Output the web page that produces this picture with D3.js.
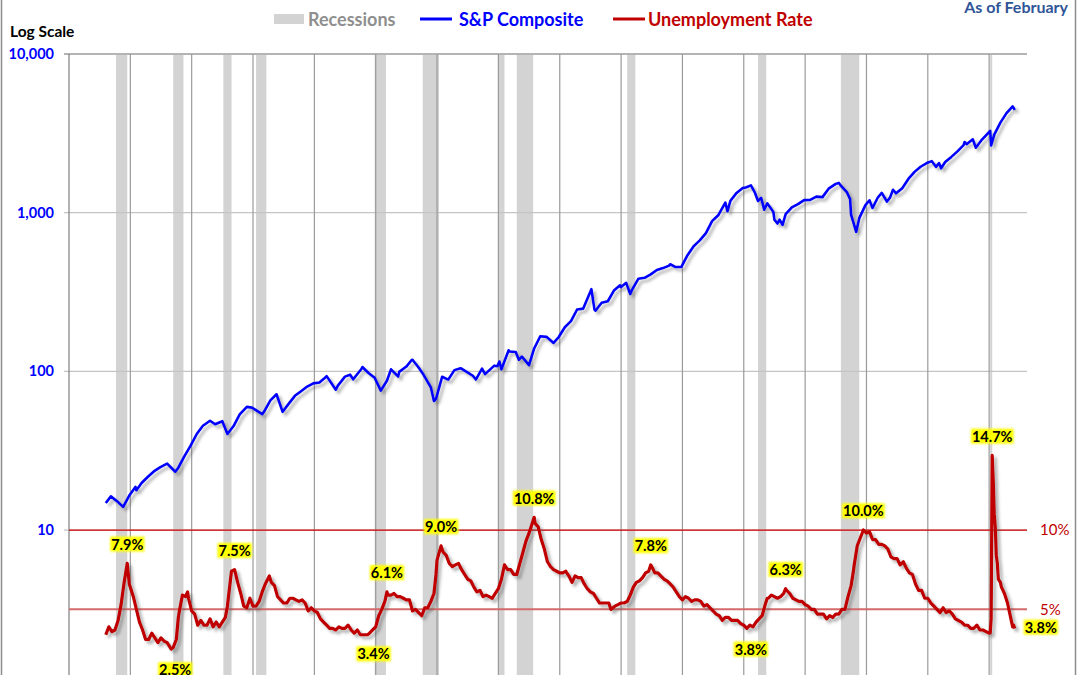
<!DOCTYPE html>
<html>
<head>
<meta charset="utf-8">
<script src="https://cdn.jsdelivr.net/npm/d3@7"></script>
<style>
  body { margin: 0; background: #fff; }
  svg { display: block; font-family: Lato, "Open Sans", sans-serif; }
</style>
</head>
<body>
<svg id="chart" width="1080" height="675"></svg>
<script>
// S&P Composite, monthly average (selected months)
const spData = [
  ["1948-01",14.8],["1948-06",16.3],["1948-12",15.2],["1949-06",14.0],["1949-12",16.5],
  ["1950-06",18.7],["1950-07",17.8],["1950-12",19.8],["1951-06",21.6],["1951-12",23.4],
  ["1952-06",24.8],["1952-12",26.0],["1953-01",26.2],["1953-09",23.3],["1953-12",24.7],
  ["1954-06",29.2],["1954-12",34.0],["1955-06",40.3],["1955-12",45.4],["1956-07",48.8],
  ["1956-12",46.4],["1957-07",48.5],["1957-12",40.3],["1958-06",45.2],["1958-12",53.5],
  ["1959-07",59.7],["1959-12",59.1],["1960-10",53.7],["1960-12",56.0],["1961-06",65.6],
  ["1961-12",71.7],["1962-06",55.6],["1962-12",62.6],["1963-06",70.1],["1963-12",75.0],
  ["1964-06",80.2],["1964-12",84.0],["1965-06",85.0],["1965-12",91.7],["1966-01",93.3],
  ["1966-10",76.6],["1966-12",81.3],["1967-07",92.6],["1967-12",95.3],["1968-03",89.1],
  ["1968-11",103.4],["1968-12",106.5],["1969-06",97.7],["1969-12",91.1],["1970-06",75.6],
  ["1970-12",87.2],["1971-04",103.0],["1971-11",92.8],["1971-12",99.2],["1972-07",107.2],
  ["1972-12",117.5],["1973-01",118.4],["1973-07",105.8],["1973-12",94.8],["1974-07",79.3],
  ["1974-10",65.0],["1974-12",67.1],["1975-06",92.4],["1975-12",88.7],["1976-06",101.8],
  ["1976-12",104.7],["1977-06",99.3],["1977-12",93.8],["1978-03",88.8],["1978-09",103.9],
  ["1978-12",96.1],["1979-09",108.6],["1979-12",107.8],["1980-02",115.3],["1980-04",103.0],
  ["1980-11",135.7],["1980-12",133.5],["1981-06",132.3],["1981-09",118.3],["1981-12",123.8],
  ["1982-07",109.4],["1982-12",139.4],["1983-06",166.4],["1983-12",165.0],["1984-07",151.1],
  ["1984-12",164.5],["1985-06",189.6],["1985-12",207.3],["1986-06",245.3],["1986-12",248.6],
  ["1987-08",329.4],["1987-11",245.0],["1987-12",241.0],["1988-06",270.7],["1988-12",276.5],
  ["1989-06",322.9],["1989-12",348.6],["1990-01",340.0],["1990-06",361.2],["1990-10",307.1],
  ["1990-12",328.8],["1991-06",383.7],["1991-12",388.5],["1992-06",408.3],["1992-12",435.6],
  ["1993-06",447.4],["1993-12",463.9],["1994-01",473.0],["1994-06",454.8],["1994-12",455.2],
  ["1995-06",539.4],["1995-12",614.6],["1996-06",669.1],["1996-12",743.3],["1997-06",884.1],
  ["1997-12",962.4],["1998-07",1156.6],["1998-09",1020.6],["1998-12",1190.1],["1999-06",1332.1],
  ["1999-12",1428.7],["2000-03",1442.2],["2000-08",1485.5],["2000-12",1330.9],["2001-03",1185.9],
  ["2001-06",1240.0],["2001-09",1044.6],["2001-12",1144.9],["2002-06",1009.0],["2002-07",903.6],
  ["2002-10",854.6],["2002-12",903.6],["2003-03",837.6],["2003-06",980.2],["2003-12",1080.6],
  ["2004-06",1132.8],["2004-12",1199.2],["2005-06",1202.3],["2005-12",1262.1],["2006-06",1253.1],
  ["2006-12",1416.4],["2007-07",1518.7],["2007-10",1539.7],["2007-12",1479.2],["2008-06",1341.3],
  ["2008-09",1216.9],["2008-10",968.8],["2008-12",877.6],["2009-03",757.1],["2009-06",923.3],
  ["2009-12",1115.1],["2010-04",1197.3],["2010-07",1070.0],["2010-12",1241.5],["2011-04",1331.5],
  ["2011-09",1175.4],["2011-12",1243.3],["2012-03",1394.5],["2012-06",1323.5],["2012-12",1427.0],
  ["2013-06",1631.9],["2013-12",1807.8],["2014-06",1947.1],["2014-12",2054.3],["2015-05",2111.9],
  ["2015-09",1944.4],["2015-12",2054.1],["2016-02",1904.4],["2016-06",2083.9],["2016-12",2246.6],
  ["2017-06",2434.0],["2017-12",2664.3],["2018-01",2789.8],["2018-03",2702.8],["2018-09",2901.5],
  ["2018-12",2567.3],["2019-06",2890.2],["2019-12",3176.7],["2020-02",3277.3],["2020-03",2652.4],
  ["2020-06",3104.7],["2020-12",3695.3],["2021-06",4238.5],["2021-12",4674.8],["2022-01",4573.8],
  ["2022-02",4436.0]
];

// Unemployment rate, percent (selected months)
const unrateData = [
  ["1948-01",3.4],["1948-04",3.9],["1948-07",3.6],["1948-10",3.7],["1949-01",4.3],["1949-04",5.3],
  ["1949-07",6.7],["1949-10",7.9],["1949-12",6.6],["1950-04",5.8],["1950-07",5.0],["1950-10",4.2],
  ["1951-01",3.7],["1951-04",3.1],["1951-07",3.1],["1951-10",3.5],["1952-01",3.2],["1952-04",2.9],
  ["1952-07",3.2],["1952-10",3.0],["1953-01",2.9],["1953-05",2.5],["1953-07",2.6],["1953-10",3.1],
  ["1953-12",4.5],["1954-01",4.9],["1954-04",5.9],["1954-07",5.8],["1954-09",6.1],["1954-10",5.7],
  ["1955-01",4.9],["1955-04",4.7],["1955-07",4.0],["1955-10",4.3],["1956-01",4.0],["1956-04",4.0],
  ["1956-07",4.4],["1956-10",3.9],["1957-01",4.2],["1957-04",3.9],["1957-07",4.2],["1957-10",4.5],
  ["1957-12",5.2],["1958-01",5.8],["1958-04",7.4],["1958-07",7.5],["1958-10",6.7],["1959-01",6.0],
  ["1959-04",5.2],["1959-07",5.1],["1959-10",5.7],["1960-01",5.2],["1960-04",5.2],["1960-07",5.5],
  ["1960-10",6.1],["1961-01",6.6],["1961-05",7.1],["1961-07",6.7],["1961-10",6.5],["1962-01",5.8],
  ["1962-04",5.6],["1962-07",5.4],["1962-10",5.4],["1963-01",5.7],["1963-04",5.7],["1963-07",5.6],
  ["1963-10",5.5],["1964-01",5.6],["1964-04",5.4],["1964-07",4.9],["1964-10",5.1],["1965-01",4.9],
  ["1965-04",4.8],["1965-07",4.4],["1965-10",4.2],["1966-01",4.0],["1966-04",3.8],["1966-07",3.8],
  ["1966-10",3.7],["1967-01",3.9],["1967-04",3.8],["1967-07",3.8],["1967-10",4.0],["1968-01",3.7],
  ["1968-04",3.5],["1968-07",3.7],["1968-10",3.4],["1969-01",3.4],["1969-05",3.4],["1969-07",3.5],
  ["1969-10",3.7],["1970-01",3.9],["1970-04",4.6],["1970-07",5.0],["1970-10",5.5],["1970-12",6.1],
  ["1971-01",5.9],["1971-04",5.9],["1971-07",6.0],["1971-10",5.8],["1972-01",5.8],["1972-04",5.7],
  ["1972-07",5.6],["1972-10",5.6],["1973-01",4.9],["1973-04",5.0],["1973-07",4.8],["1973-10",4.6],
  ["1974-01",5.1],["1974-04",5.1],["1974-07",5.5],["1974-10",6.0],["1974-12",7.2],["1975-01",8.1],
  ["1975-05",9.0],["1975-07",8.6],["1975-10",8.4],["1976-01",7.9],["1976-04",7.7],["1976-07",7.8],
  ["1976-10",7.9],["1977-01",7.5],["1977-04",7.2],["1977-07",6.9],["1977-10",6.8],["1978-01",6.4],
  ["1978-04",6.1],["1978-07",6.2],["1978-10",5.8],["1979-01",5.9],["1979-04",5.8],["1979-07",5.7],
  ["1979-10",6.0],["1980-01",6.3],["1980-04",6.9],["1980-07",7.8],["1980-10",7.5],["1981-01",7.5],
  ["1981-04",7.2],["1981-07",7.2],["1981-10",7.9],["1982-01",8.6],["1982-04",9.3],["1982-07",9.8],
  ["1982-10",10.4],["1982-12",10.8],["1983-01",10.4],["1983-04",10.2],["1983-07",9.4],["1983-10",8.8],
  ["1984-01",8.0],["1984-04",7.7],["1984-07",7.5],["1984-10",7.4],["1985-01",7.3],["1985-04",7.3],
  ["1985-07",7.4],["1985-10",7.1],["1986-01",6.7],["1986-04",7.1],["1986-07",7.0],["1986-10",7.0],
  ["1987-01",6.6],["1987-04",6.3],["1987-07",6.1],["1987-10",6.0],["1988-01",5.7],["1988-04",5.4],
  ["1988-07",5.4],["1988-10",5.4],["1989-01",5.4],["1989-03",5.0],["1989-07",5.2],["1989-10",5.3],
  ["1990-01",5.4],["1990-04",5.4],["1990-07",5.5],["1990-10",5.9],["1991-01",6.4],["1991-04",6.7],
  ["1991-07",6.8],["1991-10",7.0],["1992-01",7.3],["1992-04",7.4],["1992-06",7.8],["1992-07",7.7],
  ["1992-10",7.3],["1993-01",7.3],["1993-04",7.1],["1993-07",6.9],["1993-10",6.8],["1994-01",6.6],
  ["1994-04",6.4],["1994-07",6.1],["1994-10",5.8],["1995-01",5.6],["1995-04",5.8],["1995-07",5.7],
  ["1995-10",5.5],["1996-01",5.6],["1996-04",5.6],["1996-07",5.5],["1996-10",5.2],["1997-01",5.3],
  ["1997-04",5.1],["1997-07",4.9],["1997-10",4.7],["1998-01",4.6],["1998-04",4.3],["1998-07",4.5],
  ["1998-10",4.5],["1999-01",4.3],["1999-04",4.3],["1999-07",4.3],["1999-10",4.1],["2000-01",4.0],
  ["2000-04",3.8],["2000-07",4.0],["2000-10",3.9],["2001-01",4.2],["2001-04",4.4],["2001-07",4.6],
  ["2001-10",5.3],["2001-12",5.7],["2002-01",5.7],["2002-04",5.9],["2002-07",5.8],["2002-10",5.7],
  ["2003-01",5.8],["2003-04",6.0],["2003-06",6.3],["2003-07",6.2],["2003-10",6.0],["2004-01",5.7],
  ["2004-04",5.6],["2004-07",5.5],["2004-10",5.5],["2005-01",5.3],["2005-04",5.2],["2005-07",5.0],
  ["2005-10",5.0],["2006-01",4.7],["2006-04",4.7],["2006-07",4.7],["2006-10",4.4],["2007-01",4.6],
  ["2007-04",4.5],["2007-07",4.7],["2007-10",4.7],["2008-01",5.0],["2008-04",5.0],["2008-07",5.8],
  ["2008-10",6.5],["2008-12",7.3],["2009-01",7.8],["2009-04",9.0],["2009-07",9.5],["2009-10",10.0],
  ["2010-01",9.8],["2010-04",9.9],["2010-07",9.4],["2010-10",9.4],["2011-01",9.1],["2011-04",9.1],
  ["2011-07",9.0],["2011-10",8.8],["2012-01",8.3],["2012-04",8.2],["2012-07",8.2],["2012-10",7.8],
  ["2013-01",8.0],["2013-04",7.6],["2013-07",7.3],["2013-10",7.2],["2014-01",6.6],["2014-04",6.2],
  ["2014-07",6.2],["2014-10",5.7],["2015-01",5.7],["2015-04",5.4],["2015-07",5.2],["2015-10",5.0],
  ["2016-01",4.8],["2016-04",5.1],["2016-07",4.8],["2016-10",4.9],["2017-01",4.7],["2017-04",4.4],
  ["2017-07",4.3],["2017-10",4.2],["2018-01",4.0],["2018-04",4.0],["2018-07",3.8],["2018-10",3.8],
  ["2019-01",4.0],["2019-04",3.7],["2019-07",3.7],["2019-10",3.6],["2020-01",3.5],["2020-02",3.5],
  ["2020-03",4.4],["2020-04",14.7],["2020-05",13.2],["2020-06",11.0],["2020-07",10.2],["2020-08",8.4],
  ["2020-09",7.9],["2020-10",6.9],["2020-12",6.7],["2021-01",6.4],["2021-04",6.0],["2021-07",5.4],
  ["2021-10",4.5],["2021-12",3.9],["2022-01",4.0],["2022-02",3.8]
];

// NBER recessions [start, end]
const recessions = [
  ["1948-11","1949-10"],["1953-07","1954-05"],["1957-08","1958-04"],["1960-04","1961-02"],
  ["1969-12","1970-11"],["1973-11","1975-03"],["1980-01","1980-07"],["1981-07","1982-11"],
  ["1990-07","1991-03"],["2001-03","2001-11"],["2007-12","2009-06"],["2020-02","2020-04"]
];

// peak / trough call-outs on the unemployment line
const callouts = [
  ["1949-10","7.9%","above"],["1953-05","2.5%","below"],["1958-07","7.5%","above"],
  ["1969-07","3.4%","below"],["1970-12","6.1%","above"],["1975-05","9.0%","above"],
  ["1982-12","10.8%","above"],["1992-06","7.8%","above"],["2000-04","3.8%","below"],
  ["2003-06","6.3%","above"],["2009-10","10.0%","above"],["2020-04","14.7%","above"],
  ["2022-02","3.8%","right"]
];

const spTicks = [10, 100, 1000, 10000];
const unrateRefLines = [10, 5];

const parse = d3.timeParse("%Y-%m");
const sp = spData.map(d => ({ date: parse(d[0]), value: d[1] }));
const ur = unrateData.map(d => ({ date: parse(d[0]), value: d[1] }));

const svg = d3.select("#chart");
const plotLeft = 69, plotRight = 1027, plotTop = 54, plotBottom = 688.7;

const x = d3.scaleTime()
  .domain([new Date(1945, 0, 1), new Date(2023, 1, 1)])
  .range([plotLeft, plotRight]);
const y = d3.scaleLog().domain([1, 10000]).range([plotBottom, plotTop]);
const yU = d3.scaleLinear().domain([0, 40]).range([plotBottom, plotTop]);

// filters
const defs = svg.append("defs");
const shadow = defs.append("filter").attr("id", "shadow")
  .attr("x", "-10%").attr("y", "-10%").attr("width", "120%").attr("height", "120%");
shadow.append("feDropShadow")
  .attr("dx", 3).attr("dy", 3).attr("stdDeviation", 1.8)
  .attr("flood-color", "#555").attr("flood-opacity", 0.45);
const glow = defs.append("filter").attr("id", "glow")
  .attr("x", "-20%").attr("y", "-30%").attr("width", "140%").attr("height", "160%");
glow.append("feGaussianBlur").attr("stdDeviation", 1.2);

// outer border
svg.append("rect")
  .attr("x", 1.5).attr("y", -5).attr("width", 1074).attr("height", 700)
  .style("fill", "none").style("stroke", "#8c8c8c").style("stroke-width", 1.5);

// recession bands
svg.append("g").selectAll("rect")
  .data(recessions)
  .join("rect")
  .attr("x", d => x(parse(d[0])))
  .attr("width", d => x(parse(d[1])) - x(parse(d[0])))
  .attr("y", plotTop)
  .attr("height", plotBottom - plotTop)
  .style("fill", "#d3d3d3");

// horizontal gridlines + y ticks
svg.append("g").selectAll("line")
  .data(spTicks)
  .join("line")
  .attr("x1", plotLeft - 5).attr("x2", plotRight)
  .attr("y1", d => y(d)).attr("y2", d => y(d))
  .style("stroke", d => d === 10000 ? "#b4b4b4" : "#c4c4c4")
  .style("stroke-width", d => d === 10000 ? 2 : 1.2);

// vertical gridlines every 5 years
svg.append("g").selectAll("line")
  .data(d3.timeYear.every(5).range(new Date(1945, 0, 1), new Date(2021, 0, 1)))
  .join("line")
  .attr("x1", d => x(d)).attr("x2", d => x(d))
  .attr("y1", plotTop).attr("y2", plotBottom)
  .style("stroke", (d, i) => i === 0 ? "#7f7f7f" : "#9a9a9a")
  .style("stroke-width", 1.2);

// y labels
svg.append("g").selectAll("text")
  .data(spTicks)
  .join("text")
  .attr("x", 54).attr("y", d => y(d))
  .attr("dy", "0.35em")
  .attr("text-anchor", "end")
  .style("font-size", "14.5px").style("font-weight", "bold")
  .style("fill", "#0000ff")
  .text(d => d3.format(",")(d));

svg.append("text")
  .attr("x", 10).attr("y", 37)
  .style("font-size", "15.5px").style("font-weight", "bold").style("fill", "#000")
  .text("Log Scale");

// unemployment reference lines
svg.append("g").selectAll("line")
  .data(unrateRefLines)
  .join("line")
  .attr("x1", plotLeft).attr("x2", plotRight)
  .attr("y1", d => yU(d)).attr("y2", d => yU(d))
  .style("stroke", d => d === 10 ? "#d00000" : "#d46a6a")
  .style("stroke-width", d => d === 10 ? 1.3 : 2);

svg.append("g").selectAll("text")
  .data(unrateRefLines)
  .join("text")
  .attr("x", 1040).attr("y", d => yU(d))
  .attr("dy", "0.35em")
  .style("font-size", "15px").style("fill", "#c00000")
  .text(d => d + "%");

// lines
const spLine = d3.line().x(d => x(d.date)).y(d => y(d.value));
const urLine = d3.line().x(d => x(d.date)).y(d => yU(d.value));

svg.append("path")
  .datum(sp)
  .attr("d", spLine)
  .attr("filter", "url(#shadow)")
  .style("fill", "none").style("stroke", "#0000ff")
  .style("stroke-width", 2.6).style("stroke-linejoin", "round");

svg.append("path")
  .datum(ur)
  .attr("d", urLine)
  .attr("filter", "url(#shadow)")
  .style("fill", "none").style("stroke", "#c00000")
  .style("stroke-width", 3.2).style("stroke-linejoin", "round");

// call-out labels
const urByDate = new Map(ur.map(d => [d3.timeFormat("%Y-%m")(d.date), d.value]));
const cg = svg.append("g").selectAll("g")
  .data(callouts)
  .join("g")
  .attr("transform", d => {
    const px = x(parse(d[0])), py = yU(urByDate.get(d[0]));
    if (d[2] === "above") return `translate(${px},${py - 19})`;
    if (d[2] === "below") return `translate(${px + 4},${py + 21})`;
    return `translate(${px + 26},${py - 1})`;
  });

cg.each(function(d) {
  const g = d3.select(this);
  const t = g.append("text")
    .attr("text-anchor", "middle").attr("dy", "0.36em")
    .style("font-size", "14.5px").style("font-weight", "bold").style("fill", "#000")
    .text(d[1]);
  const b = t.node().getBBox();
  g.insert("rect", "text")
    .attr("x", b.x - 1).attr("y", b.y + 1)
    .attr("width", b.width + 2).attr("height", b.height - 2)
    .attr("filter", "url(#glow)")
    .style("fill", "#ffff00");
});

// legend
const lg = svg.append("g").style("font-size", "18px").style("font-weight", "bold");
lg.append("rect").attr("x", 274).attr("y", 14).attr("width", 30).attr("height", 10).style("fill", "#d3d3d3");
lg.append("text").attr("x", 308).attr("y", 25.5).style("fill", "#8f8f8f").text("Recessions");
lg.append("line").attr("x1", 420).attr("x2", 452).attr("y1", 19).attr("y2", 19)
  .style("stroke", "#0000ff").style("stroke-width", 3);
lg.append("text").attr("x", 459).attr("y", 25.5).style("fill", "#0000ff").text("S&P Composite");
lg.append("line").attr("x1", 613).attr("x2", 645).attr("y1", 19).attr("y2", 19)
  .style("stroke", "#c00000").style("stroke-width", 3);
lg.append("text").attr("x", 648).attr("y", 25.5).style("fill", "#c00000").text("Unemployment Rate");

svg.append("text")
  .attr("x", 1068).attr("y", 13)
  .attr("text-anchor", "end")
  .style("font-size", "16px").style("font-weight", "bold").style("fill", "#2f5597")
  .text("As of February");
</script>
</body>
</html>
